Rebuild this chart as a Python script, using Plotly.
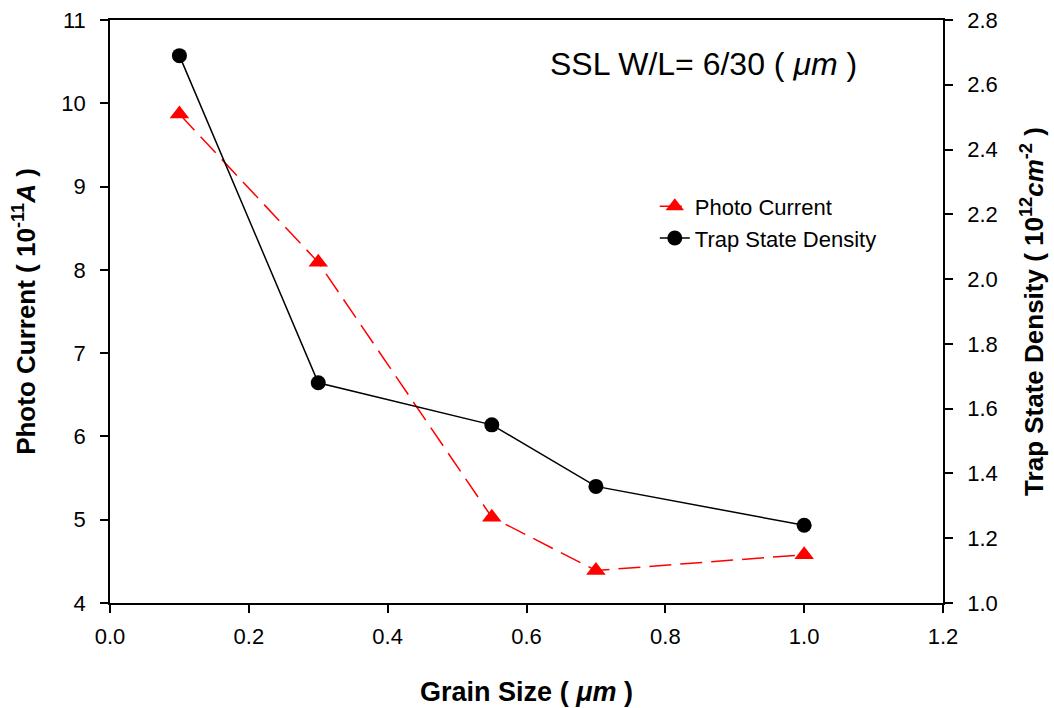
import plotly.graph_objects as go

grain_size = [0.1, 0.3, 0.55, 0.7, 1.0]
photo_current = [9.87, 8.09, 5.03, 4.39, 4.58]
trap_density = [2.69, 1.68, 1.55, 1.36, 1.24]

x_ticks = [0.0, 0.2, 0.4, 0.6, 0.8, 1.0, 1.2]
y1_ticks = [4, 5, 6, 7, 8, 9, 10, 11]
y2_ticks = [1.0, 1.2, 1.4, 1.6, 1.8, 2.0, 2.2, 2.4, 2.6, 2.8]

FONT = "Liberation Sans, Arial, sans-serif"

fig = go.Figure()
fig.add_trace(go.Scatter(
    x=grain_size, y=photo_current, name="Photo Current", mode="lines+markers",
    line=dict(color="#ff0000", width=1.5, dash="22px,9px"),
    marker=dict(symbol="triangle-up", size=17, color="#ff0000"),
    yaxis="y"))
fig.add_trace(go.Scatter(
    x=grain_size, y=trap_density, name="Trap State Density", mode="lines+markers",
    line=dict(color="black", width=1.5),
    marker=dict(symbol="circle", size=15, color="black"),
    yaxis="y2"))

axis_common = dict(showgrid=False, zeroline=False, showline=True, linecolor="black",
                   linewidth=1.5, ticks="outside", ticklen=8, tickwidth=1.5,
                   automargin=False,
                   tickcolor="black", tickfont=dict(family=FONT, size=22, color="black"))

fig.update_layout(
    width=1054, height=708,
    margin=dict(l=110, r=111, t=20, b=105),
    paper_bgcolor="white", plot_bgcolor="white",
    font=dict(family=FONT, color="black"),
    xaxis=dict(range=[0, 1.2], tickvals=x_ticks, tickformat=".1f", mirror=True,
               ticklabelstandoff=5,
               title=dict(text="<b>Grain Size ( <i>μm</i> )</b>",
                          font=dict(family=FONT, size=27), standoff=34),
               **axis_common),
    yaxis=dict(range=[4, 11], tickvals=y1_ticks, ticklabelstandoff=10,
               title=dict(text="<b>Photo Current ( 10<sup>-11</sup><i>A</i> )</b>",
                          font=dict(family=FONT, size=26), standoff=18),
               **axis_common),
    yaxis2=dict(range=[1.0, 2.8], tickvals=y2_ticks, tickformat=".1f",
                overlaying="y", side="right", ticklabelstandoff=10,
                title=dict(text="<b>Trap State Density ( 10<sup>12</sup><i>cm</i><sup>-2</sup> )</b>",
                           font=dict(family=FONT, size=26), standoff=28),
                **axis_common),
    legend=dict(x=0.654, y=0.716, xanchor="left", yanchor="top",
                bgcolor="rgba(0,0,0,0)", font=dict(family=FONT, size=22),
                tracegroupgap=0),
    showlegend=True,
)

fig.add_annotation(text="SSL W/L= 6/30 ( <i>μm</i> )", xref="paper", yref="paper",
                   x=0.713, y=0.925, xanchor="center", yanchor="middle", showarrow=False,
                   font=dict(family=FONT, size=32, color="black"))

fig.write_html("out.html")
